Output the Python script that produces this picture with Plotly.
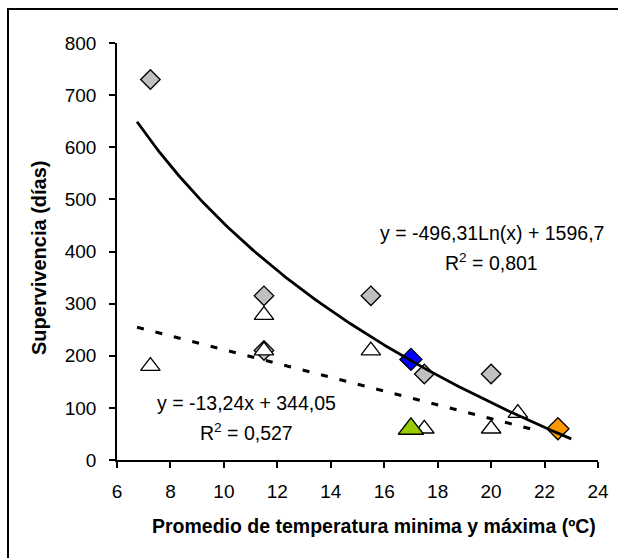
import numpy as np
import plotly.graph_objects as go

# Survival (days) vs. mean of minimum and maximum temperature (ºC)
diam_x = [7.25, 11.5, 11.5, 15.5, 17.5, 20.0]
diam_y = [730, 315, 210, 315, 165, 165]
blue_x, blue_y = [17.0], [193]
orange_x, orange_y = [22.5], [60]

tri_x = [7.25, 11.5, 11.5, 15.5, 17.5, 20.0, 21.0]
tri_y = [180, 278, 210, 210, 60, 60, 90]
green_x, green_y = [17.0], [60]

# Trend line coefficients
log_a, log_b = -496.31, 1596.7
lin_m, lin_c = -13.24, 344.05
log_span = (6.75, 23.0)
lin_span = (6.75, 21.5)

x_ticks = [6, 8, 10, 12, 14, 16, 18, 20, 22, 24]
y_ticks = [0, 100, 200, 300, 400, 500, 600, 700, 800]

FONT = "Liberation Sans, Arial, sans-serif"

fig = go.Figure()

fig.add_trace(go.Scatter(
    x=diam_x, y=diam_y, mode="markers",
    marker=dict(symbol="diamond", size=15, color="#C0C0C0",
                line=dict(color="black", width=1.3)),
    showlegend=False))
fig.add_trace(go.Scatter(
    x=blue_x, y=blue_y, mode="markers",
    marker=dict(symbol="diamond", size=17, color="#0000FF",
                line=dict(color="black", width=1.3)),
    showlegend=False))
fig.add_trace(go.Scatter(
    x=orange_x, y=orange_y, mode="markers",
    marker=dict(symbol="diamond", size=17, color="#FF9900",
                line=dict(color="black", width=1.3)),
    showlegend=False))
fig.add_trace(go.Scatter(
    x=tri_x, y=tri_y, mode="markers",
    marker=dict(symbol="triangle-up", size=17, color="white",
                line=dict(color="black", width=1.3)),
    showlegend=False))
fig.add_trace(go.Scatter(
    x=green_x, y=green_y, mode="markers",
    marker=dict(symbol="triangle-up", size=22, color="#99CC00",
                line=dict(color="black", width=1.3)),
    showlegend=False))

# Logarithmic trend
lx = np.linspace(log_span[0], log_span[1], 200)
fig.add_trace(go.Scatter(
    x=lx, y=log_a * np.log(lx) + log_b, mode="lines",
    line=dict(color="black", width=2.8), showlegend=False))

# Linear trend
tx = np.array(lin_span)
fig.add_trace(go.Scatter(
    x=tx, y=lin_m * tx + lin_c, mode="lines",
    line=dict(color="black", width=3, dash="7px,12px"), showlegend=False))

txt = dict(family=FONT, size=19.5, color="black")
fig.add_annotation(x=20.03, y=435, xref="x", yref="y", showarrow=False,
                   text="y = -496,31Ln(x) + 1596,7", font=txt)
fig.add_annotation(x=20.03, y=380, xref="x", yref="y", showarrow=False,
                   text="R<sup>2</sup> = 0,801", font=txt)
fig.add_annotation(x=10.83, y=109, xref="x", yref="y", showarrow=False,
                   text="y = -13,24x + 344,05", font=txt)
fig.add_annotation(x=10.83, y=54, xref="x", yref="y", showarrow=False,
                   text="R<sup>2</sup> = 0,527", font=txt)

# Plot area geometry in pixels
L, R, T, B = 117, 20, 43, 98
W, H = 618, 558
pw, ph = W - L - R, H - T - B


def px(xp):
    return (xp - L) / pw


def py(yp):
    return (H - B - yp) / ph


# Axis titles
fig.add_annotation(x=px(374), y=py(526), xref="paper", yref="paper",
                   xanchor="center", yanchor="middle", showarrow=False,
                   text="<b>Promedio de temperatura minima y máxima (ºC)</b>",
                   font=dict(family=FONT, size=19.5, color="black"))
fig.add_annotation(x=px(39), y=py(258), xref="paper", yref="paper",
                   xanchor="center", yanchor="middle",
                   showarrow=False, textangle=-90,
                   text="<b>Supervivencia (días)</b>",
                   font=dict(family=FONT, size=20, color="black"))

# Chart frame
fig.add_shape(type="rect", xref="paper", yref="paper",
              x0=px(8), x1=px(640), y0=py(580), y1=py(9),
              line=dict(color="black", width=2), fillcolor="rgba(0,0,0,0)")

axis_common = dict(showgrid=False, zeroline=False, showline=True,
                   linecolor="black", linewidth=1.5, ticks="outside",
                   ticklen=6, tickwidth=1.5, tickcolor="black",
                   tickfont=dict(family=FONT, size=19, color="black"))

fig.update_xaxes(range=[6, 24], tickvals=x_ticks,
                 ticktext=[str(v) for v in x_ticks],
                 ticklabelstandoff=7, **axis_common)
fig.update_yaxes(range=[0, 800], tickvals=y_ticks,
                 ticktext=[str(v) for v in y_ticks],
                 ticklabelstandoff=9, **axis_common)

fig.update_layout(width=W, height=H,
                  margin=dict(l=L, r=R, t=T, b=B, autoexpand=False),
                  paper_bgcolor="white", plot_bgcolor="white")

fig.write_html("out.html")
